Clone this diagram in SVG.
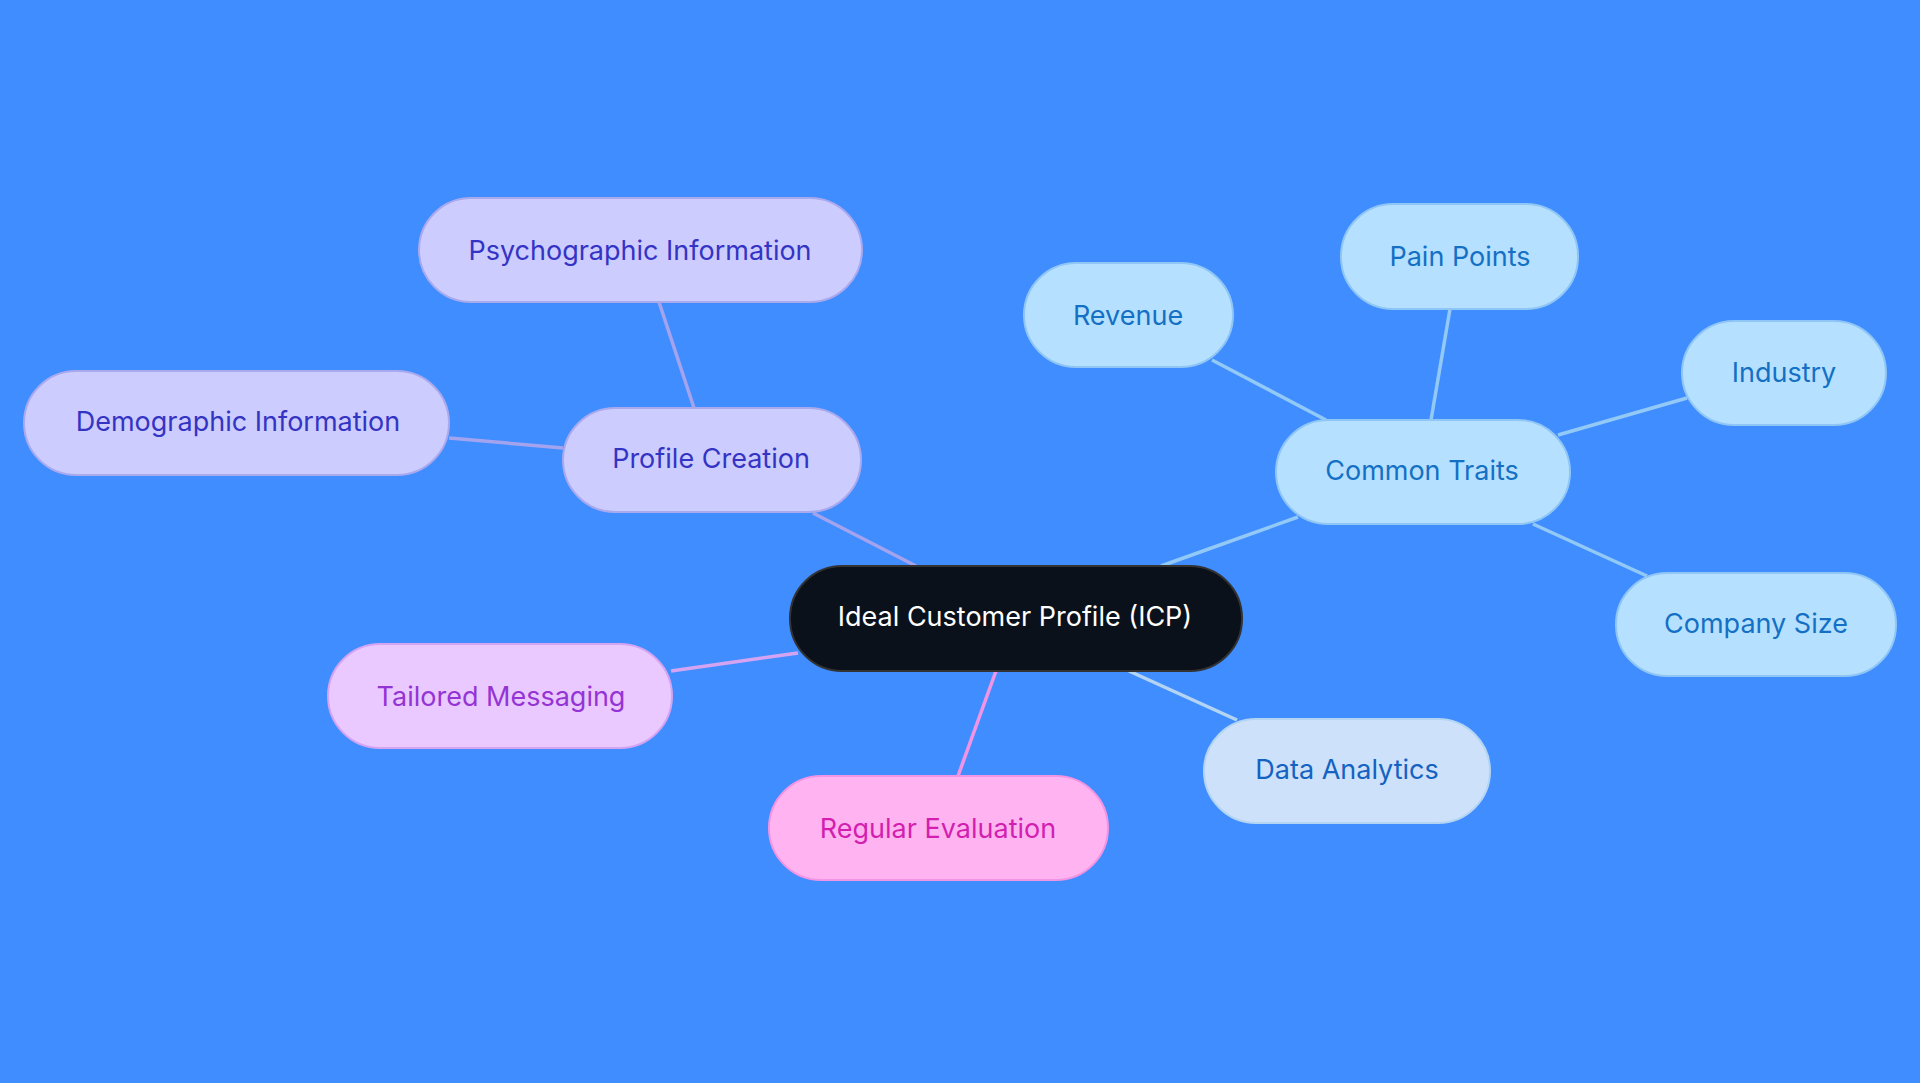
<svg xmlns="http://www.w3.org/2000/svg" width="1920" height="1083" viewBox="0 0 1920 1083">
<style>
text{font-family:Inter,"Noto Sans",sans-serif;font-size:27px;text-anchor:middle;dominant-baseline:central}
.e{stroke-width:3.5;fill:none}
.p rect{fill:#ccccff;stroke:#a9a9ee;stroke-width:2}.p text{fill:#3434c4}
.b rect{fill:#b6e0ff;stroke:#8fc6f5;stroke-width:2}.b text{fill:#1470c4}
</style>
<rect width="1920" height="1083" fill="#408dff"/>
<g id="connectors">
<line class="e" stroke="#a3a3ee" x1="916" y1="566" x2="813" y2="513"/>
<line class="e" stroke="#a3a3ee" x1="694" y1="408" x2="659" y2="302"/>
<line class="e" stroke="#a3a3ee" x1="563" y1="448" x2="449" y2="438"/>
<line class="e" stroke="#d4a4f2" x1="798" y1="653" x2="671" y2="671"/>
<line class="e" stroke="#f294e4" x1="996" y1="671" x2="958" y2="776"/>
<line class="e" stroke="#b4d4f4" x1="1129" y1="671" x2="1237" y2="720"/>
<line class="e" stroke="#92c9f6" x1="1161" y1="566" x2="1298" y2="517"/>
<line class="e" stroke="#92c9f6" x1="1326" y1="420" x2="1212" y2="360"/>
<line class="e" stroke="#92c9f6" x1="1431" y1="420" x2="1450" y2="309"/>
<line class="e" stroke="#92c9f6" x1="1558" y1="435" x2="1687" y2="398"/>
<line class="e" stroke="#92c9f6" x1="1533" y1="524" x2="1647" y2="576"/>
</g>
<g id="center"><rect x="790" y="566" width="452" height="105" rx="52" fill="#0b111b" stroke="#333" stroke-width="2"/><text x="1015" y="616" fill="#fff">Ideal Customer Profile (ICP)</text></g>
<g id="profile" class="p"><rect x="563" y="408" width="298" height="104" rx="52"/><text x="711" y="458">Profile Creation</text></g>
<g id="psych" class="p"><rect x="419" y="198" width="443" height="104" rx="52"/><text x="640" y="250">Psychographic Information</text></g>
<g id="demo" class="p"><rect x="24" y="371" width="425" height="104" rx="52"/><text x="238" y="421">Demographic Information</text></g>
<g id="tailored"><rect x="328" y="644" width="344" height="104" rx="52" fill="#e9c9ff" stroke="#d4a4f2" stroke-width="2"/><text x="501" y="696" fill="#9534d4">Tailored Messaging</text></g>
<g id="regular"><rect x="769" y="776" width="339" height="104" rx="52" fill="#ffb4f1" stroke="#f294e4" stroke-width="2"/><text x="938" y="828" fill="#d21fb0">Regular Evaluation</text></g>
<g id="data"><rect x="1204" y="719" width="286" height="104" rx="52" fill="#cde1fa" stroke="#b4d4f4" stroke-width="2"/><text x="1347" y="769" fill="#1462c2">Data Analytics</text></g>
<g id="common" class="b"><rect x="1276" y="420" width="294" height="104" rx="52"/><text x="1422" y="470">Common Traits</text></g>
<g id="revenue" class="b"><rect x="1024" y="263" width="209" height="104" rx="52"/><text x="1128" y="315">Revenue</text></g>
<g id="pain" class="b"><rect x="1341" y="204" width="237" height="105" rx="52"/><text x="1460" y="256">Pain Points</text></g>
<g id="industry" class="b"><rect x="1682" y="321" width="204" height="104" rx="52"/><text x="1784" y="372">Industry</text></g>
<g id="company" class="b"><rect x="1616" y="573" width="280" height="103" rx="51"/><text x="1756" y="623">Company Size</text></g>
</svg>
